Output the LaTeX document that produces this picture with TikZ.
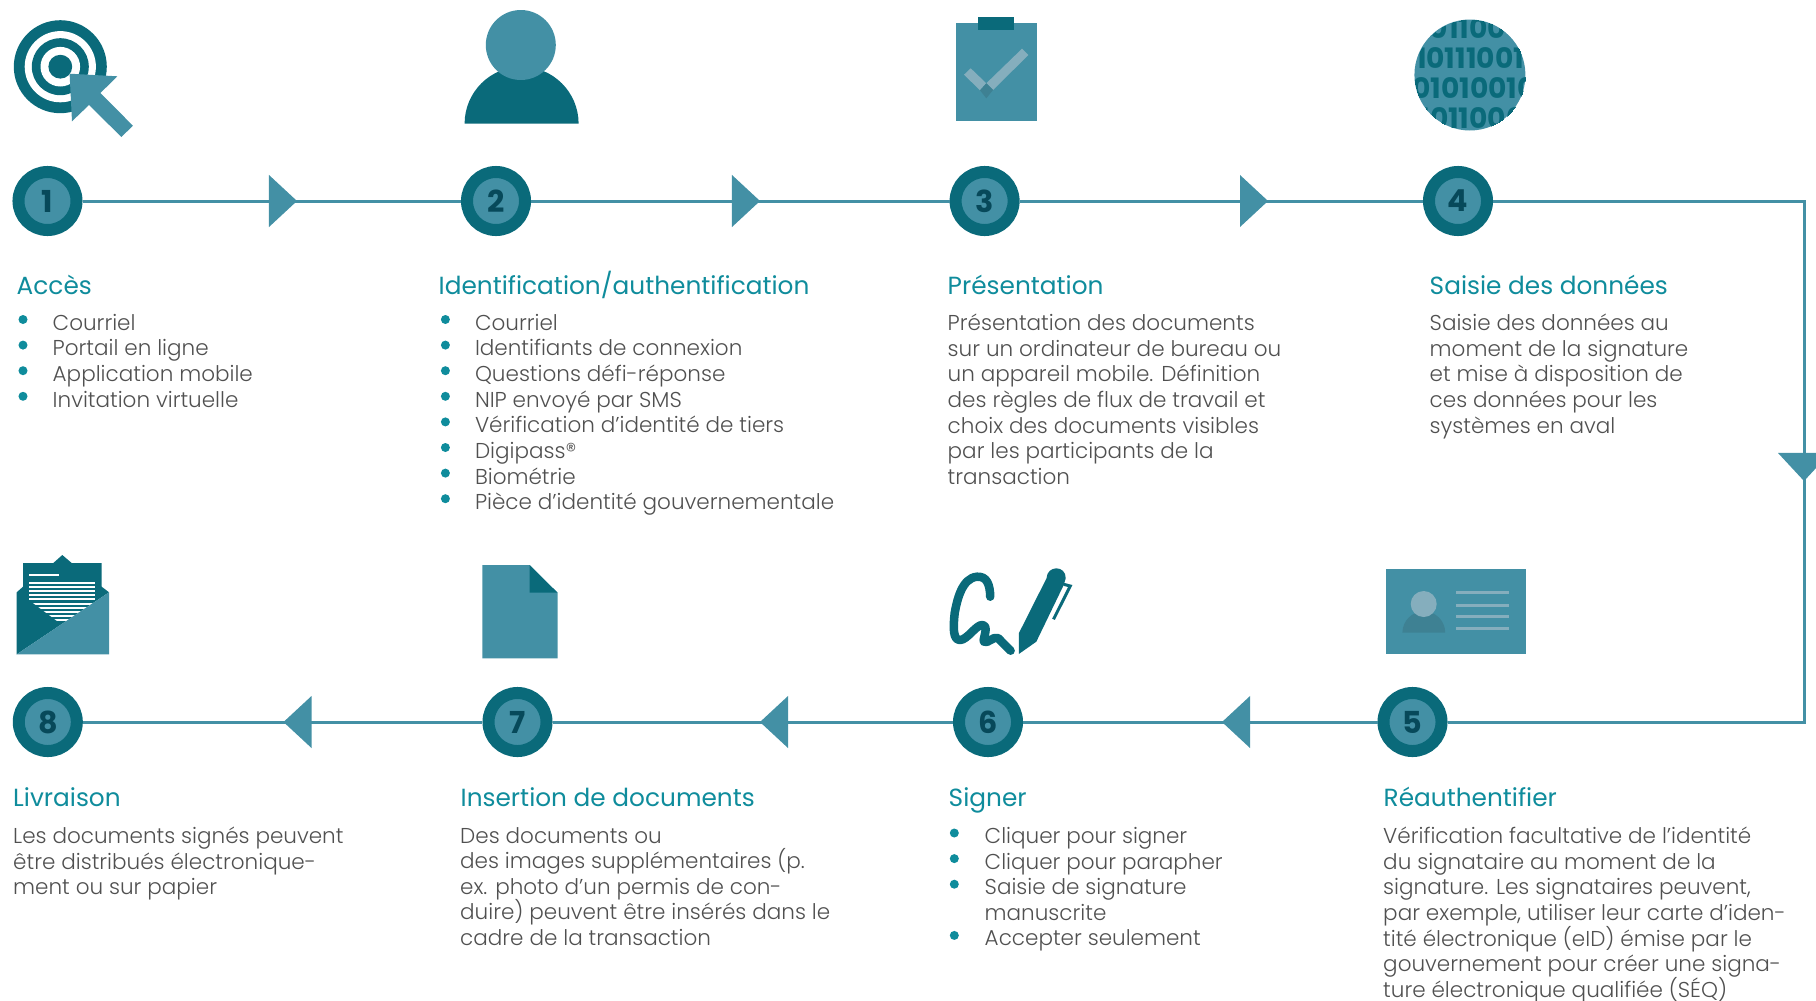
\documentclass[tikz,border=0pt]{standalone}
\usepackage{fontspec}
\usepackage{xcolor}
\usepackage{tikz}
\usetikzlibrary{shapes.geometric}
\setmainfont{Poppins}
\newfontfamily\bodyfont{Poppins Light}
\definecolor{sgdark}{RGB}{10,106,122}
\definecolor{sgmid}{RGB}{67,144,165}
\definecolor{sgdigit}{RGB}{7,73,90}
\definecolor{sghead}{RGB}{15,140,156}
\definecolor{sgtext}{RGB}{80,80,80}
\definecolor{sglight}{RGB}{133,174,189}
\definecolor{sgshade}{RGB}{62,129,147}
\setlength{\lineskiplimit}{-5pt}

\begin{document}
\begin{tikzpicture}[x=0.01cm, y=-0.01cm,
    stepnode/.style={circle, draw=sgdark, fill=sgmid, line width=0.12cm, minimum size=0.58cm, inner sep=0pt, text=sgdigit, font=\fontsize{8.6}{10}\selectfont\bfseries},
    flowline/.style={draw=sgmid, line width=0.03cm},
    flowtip/.style={isosceles triangle, isosceles triangle stretches, fill=sgmid, minimum height=0.28cm, minimum width=0.52cm, inner sep=0pt, outer sep=0pt, anchor=apex},
    heading/.style={anchor=base west, inner sep=0pt, text=sghead, font=\fontsize{7.05}{8}\selectfont},
    bodytext/.style={anchor=north west, inner sep=0pt, align=left, text=sgtext, font=\bodyfont\fontsize{6.12}{7.28}\selectfont},
    listdot/.style={circle, fill=sghead, minimum size=0.09cm, inner sep=0pt},
    binary/.style={inner sep=0pt, text=sgdark, font=\fontsize{8}{10}\selectfont\bfseries}]

\clip (0,0) rectangle (1816,1000);

% Upper steps
\node[stepnode] (step1) at (47.5,201) {1};
\node[stepnode] (step2) at (496,201) {2};
\node[stepnode] (step3) at (984.6,201) {3};
\node[stepnode] (step4) at (1458,201) {4};

% Lower steps
\node[stepnode] (step5) at (1412.5,722) {5};
\node[stepnode] (step6) at (988,722) {6};
\node[stepnode] (step7) at (517.5,722) {7};
\node[stepnode] (step8) at (47.8,722) {8};

% Connections
\coordinate (cornerT) at (1804,201);
\coordinate (cornerB) at (1804,722);
\draw[flowline] (step1) -- (step2);
\draw[flowline] (step2) -- (step3);
\draw[flowline] (step3) -- (step4);
\draw[flowline] (step4) -- (cornerT) -- (cornerB) -- (step5);
\draw[flowline] (step5) -- (step6);
\draw[flowline] (step6) -- (step7);
\draw[flowline] (step7) -- (step8);

% Direction marks
\node[flowtip] (tip1) at (297,201) {};
\node[flowtip] (tip2) at (760,201) {};
\node[flowtip] (tip3) at (1268,201) {};
\node[flowtip, shape border rotate=-90] (tip4) at (1804,481) {};
\node[flowtip, shape border rotate=180] (tip5) at (1222,722) {};
\node[flowtip, shape border rotate=180] (tip6) at (760,722) {};
\node[flowtip, shape border rotate=180] (tip7) at (283.5,722) {};

% Target icon
\fill[sgdark] (60.3,66.7) circle[radius=46.5];
\fill[white] (60.3,66.7) circle[radius=35.6];
\fill[sgdark] (60.3,66.7) circle[radius=28.5];
\fill[white] (60.3,66.7) circle[radius=19.8];
\fill[sgdark] (60.3,66.7) circle[radius=11.9];
\fill[sgmid] (69.6,73.7) -- (117.4,76.3) -- (100.4,93) -- (132.9,125.7) -- (121.4,137) -- (89,105) -- (72,121.3) -- cycle;

% Person icon
\fill[sgdark] (464.6,123.7) arc[start angle=180, end angle=360, radius=57] -- cycle;
\fill[sgmid] (520.8,45) circle[radius=35];

% Clipboard icon
\fill[sgmid] (956,23) rectangle (1036.8,121);
\fill[sgdark] (977.9,17) rectangle (1014,30);
\fill[sglight] (1022,48.7) -- (1028.4,55) -- (993,90) -- (986.3,83.3) -- cycle;
\fill[sglight] (970.7,68.3) -- (964,74.7) -- (980,90.3) -- (986.3,83.3) -- cycle;
\fill[sgshade] (986.3,83.3) -- (993,90) -- (986.3,98.3) -- (980,90.3) -- cycle;

% Data icon
\fill[sgmid] (1469.9,75) circle[radius=55.5];
\begin{scope}
\clip (1469.9,75) circle[radius=55.5];
\node[binary] (row1) at (1468,28) {01100};
\node[binary] (row2) at (1470,58) {10111001};
\node[binary] (row3) at (1474,88) {01010010};
\node[binary] (row4) at (1472,118) {1011000};
\end{scope}

% Envelope icon
\fill[sgdark] (16.7,654.3) -- (16.7,592.3) -- (23,586.7) -- (23,563) -- (53.3,563) -- (62.3,555) -- (71.7,563) -- (101.7,563) -- (101.7,586.7) -- (109,592.3) -- cycle;
\fill[white] (29,574) rectangle (59,576);
\begin{scope}
\clip (29,581) -- (95,581) -- (95,601.7) -- (65,622) -- (58.3,622) -- (29,600) -- cycle;
\foreach \i in {0,...,9}
  \fill[white] (29,{582+4.1*\i}) rectangle (95,{584+4.1*\i});
\end{scope}
\fill[sgmid] (16.7,654.3) -- (109,592.3) -- (109,654.3) -- cycle;

% Document icon
\fill[sgmid] (482.4,565) -- (529.5,565) -- (557.5,592.7) -- (557.5,658.3) -- (482.4,658.3) -- cycle;
\fill[sgdark] (529.5,565) -- (557.5,592.7) -- (529.5,592.7) -- cycle;

% Signature icon
\draw[sgdark, line width=0.085cm, line cap=round, line join=round] (990.2,596.7) .. controls (990,585) and (987,576) .. (977,576.7)
  .. controls (962,578) and (957,600) .. (954.7,613)
  .. controls (953,628) and (953,640) .. (960,640)
  .. controls (967,640) and (976,625) .. (982,625)
  .. controls (990,625) and (982,640) .. (984,641.7)
  .. controls (988,644) and (993,636) .. (998,638)
  -- (1010.6,650.7);
\fill[sgdark] (1018.8,654) -- (1018.8,633.3) -- (1046.5,578.3) .. controls (1047,565) and (1066,565) .. (1065.7,578.3) -- (1063.7,585) -- (1036.3,641.7) -- cycle;
\draw[sgdark, line width=0.03cm] (1063.7,584.3) -- (1070.2,586) -- (1053.5,619.3);

% Card icon
\fill[sgmid] (1386,569) rectangle (1526,654);
\fill[sgshade] (1402.4,632.7) arc[start angle=180, end angle=360, radius=21.4] -- cycle;
\fill[sglight] (1423.7,604) circle[radius=13];
\foreach \y in {592.3,605.3,616.3,628.3}
  \fill[sglight] (1456,\y-1.5) rectangle (1509,\y+1.5);

% Upper headings
\node[heading] (headA) at (16,294) {Accès};
\node[heading] (headB) at (438,294) {Identification/authentification};
\node[heading] (headC) at (947,294) {Présentation};
\node[heading] (headD) at (1429,294) {Saisie des données};

% Upper texts
\node[bodytext] (textA) at (52,313.5) {Courriel\\Portail en ligne\\Application mobile\\Invitation virtuelle};
\node[bodytext] (textB) at (474.3,313.5) {Courriel\\Identifiants de connexion\\Questions défi-réponse\\NIP envoyé par SMS\\Vérification d’identité de tiers\\Digipass®\\Biométrie\\Pièce d’identité gouvernementale};
\node[bodytext] (textC) at (947,313.5) {Présentation des documents\\sur un ordinateur de bureau ou\\un appareil mobile. Définition\\des règles de flux de travail et\\choix des documents visibles\\par les participants de la\\transaction};
\node[bodytext] (textD) at (1429,313.5) {Saisie des données au\\moment de la signature\\et mise à disposition de\\ces données pour les\\systèmes en aval};

% Lower headings
\node[heading] (headE) at (1383,806) {Réauthentifier};
\node[heading] (headF) at (948,806) {Signer};
\node[heading] (headG) at (460,806) {Insertion de documents};
\node[heading] (headH) at (12.5,806) {Livraison};

% Lower texts
\node[bodytext] (textE) at (1382.5,826.5) {Vérification facultative de l’identité\\du signataire au moment de la\\signature. Les signataires peuvent,\\par exemple, utiliser leur carte d’iden-\\tité électronique (eID) émise par le\\gouvernement pour créer une signa-\\ture électronique qualifiée (SÉQ)};
\node[bodytext] (textF) at (984,826.5) {Cliquer pour signer\\Cliquer pour parapher\\Saisie de signature\\manuscrite\\Accepter seulement};
\node[bodytext] (textG) at (459.5,826.5) {Des documents ou\\des images supplémentaires (p.\\ex. photo d’un permis de con-\\duire) peuvent être insérés dans le\\cadre de la transaction};
\node[bodytext] (textH) at (12.5,826.5) {Les documents signés peuvent\\être distribués électronique-\\ment ou sur papier};

% List marks
\foreach \i in {0,...,3}
  \node[listdot] (dotA\i) at (23,{319.5+25.6*\i}) {};
\foreach \i in {0,...,7}
  \node[listdot] (dotB\i) at (445.4,{319.5+25.6*\i}) {};
\foreach \i in {0,1,2,4}
  \node[listdot] (dotF\i) at (954.3,{833+25.6*\i}) {};

\end{tikzpicture}
\end{document}
